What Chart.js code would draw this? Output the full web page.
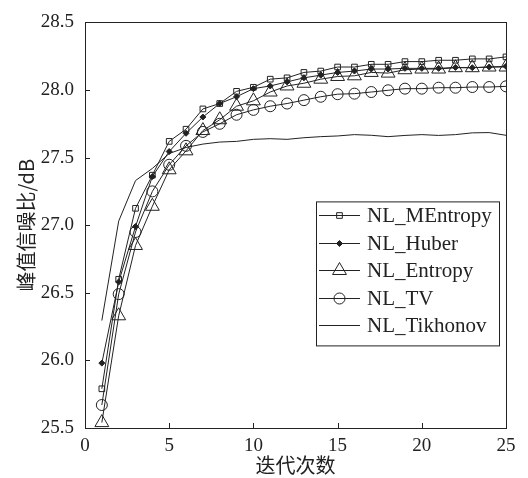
<!DOCTYPE html>
<html>
<head>
<meta charset="utf-8">
<script src="https://cdn.jsdelivr.net/npm/chart.js@4/dist/chart.umd.min.js"></script>
<style>
  html, body { margin: 0; padding: 0; background: #fff; }
</style>
</head>
<body>
<canvas id="myChart" width="528" height="478"></canvas>
<script>
// data
const iterations = [1,2,3,4,5,6,7,8,9,10,11,12,13,14,15,16,17,18,19,20,21,22,23,24,25];
const seriesNames = ['NL_MEntropy', 'NL_Huber', 'NL_Entropy', 'NL_TV', 'NL_Tikhonov'];
const mentropy = [25.79, 26.60, 27.125, 27.37, 27.62, 27.71, 27.86, 27.90, 27.99, 28.02, 28.08, 28.09, 28.13, 28.14, 28.17, 28.17, 28.19, 28.19, 28.21, 28.21, 28.22, 28.22, 28.23, 28.23, 28.245];
const huber = [25.98, 26.58, 26.99, 27.36, 27.545, 27.68, 27.80, 27.90, 27.95, 28.01, 28.03, 28.06, 28.09, 28.11, 28.13, 28.14, 28.155, 28.155, 28.16, 28.16, 28.16, 28.167, 28.165, 28.17, 28.175];
const entropy = [25.54, 26.33, 26.85, 27.14, 27.41, 27.55, 27.70, 27.78, 27.88, 27.92, 27.985, 28.03, 28.05, 28.08, 28.10, 28.105, 28.13, 28.125, 28.15, 28.155, 28.155, 28.165, 28.165, 28.17, 28.17];
const tv = [25.67, 26.49, 26.95, 27.25, 27.447, 27.587, 27.69, 27.75, 27.817, 27.853, 27.88, 27.90, 27.925, 27.95, 27.969, 27.973, 27.985, 27.998, 28.01, 28.01, 28.017, 28.017, 28.022, 28.022, 28.027];
const tikhonov = [26.295, 27.03, 27.33, 27.42, 27.53, 27.575, 27.60, 27.615, 27.62, 27.635, 27.64, 27.635, 27.647, 27.655, 27.66, 27.67, 27.665, 27.655, 27.664, 27.67, 27.664, 27.67, 27.683, 27.685, 27.665];
const xTitle = '迭代次数';
const yTitle = '峰值信噪比/dB';

const ink = '#222';
const serif = '"Liberation Serif", "DejaVu Serif", serif';

function pts(vals) {
  return vals.map((v, i) => ({x: iterations[i], y: v}));
}

function series(label, vals, style, r, filled) {
  return {
    label: label,
    data: pts(vals),
    borderColor: ink,
    borderWidth: 1,
    pointStyle: style,
    pointRadius: style ? r : 0,
    pointBorderColor: ink,
    pointBorderWidth: 1,
    pointBackgroundColor: filled ? ink : 'rgba(0,0,0,0)',
    tension: 0,
    clip: 0
  };
}

// draws a marker the same way the chart does, for the legend
function mark(ctx, style, r, x, y, filled) {
  ctx.beginPath();
  if (style === 'rect') {
    const s = r * Math.SQRT1_2;
    ctx.rect(x - s, y - s, 2 * s, 2 * s);
  } else if (style === 'rectRot') {
    ctx.moveTo(x, y - r); ctx.lineTo(x + r, y); ctx.lineTo(x, y + r); ctx.lineTo(x - r, y); ctx.closePath();
  } else if (style === 'triangle') {
    ctx.moveTo(x, y - r);
    ctx.lineTo(x + 0.866 * r, y + 0.5 * r);
    ctx.lineTo(x - 0.866 * r, y + 0.5 * r);
    ctx.closePath();
  } else if (style === 'circle') {
    ctx.arc(x, y, r, 0, Math.PI * 2);
  } else {
    return;
  }
  if (filled) { ctx.fillStyle = ink; ctx.fill(); }
  ctx.stroke();
}

const frameAndTicks = {
  id: 'frameAndTicks',
  afterDraw(chart) {
    const ctx = chart.ctx, a = chart.chartArea;
    ctx.save();
    ctx.strokeStyle = ink;
    ctx.lineWidth = 1;
    ctx.strokeRect(Math.round(a.left) + 0.5, Math.round(a.top) + 0.5,
                   Math.round(a.right - a.left), Math.round(a.bottom - a.top));
    ctx.beginPath();
    const xs = chart.scales.x, ys = chart.scales.y;
    xs.ticks.forEach(t => {
      const px = Math.round(xs.getPixelForValue(t.value)) + 0.5;
      ctx.moveTo(px, a.bottom); ctx.lineTo(px, a.bottom - 5);
    });
    ys.ticks.forEach(t => {
      const py = Math.round(ys.getPixelForValue(t.value)) + 0.5;
      ctx.moveTo(a.left, py); ctx.lineTo(a.left + 5, py);
    });
    ctx.stroke();
    ctx.restore();
  }
};

const boxLegend = {
  id: 'boxLegend',
  afterDraw(chart) {
    const ctx = chart.ctx, a = chart.chartArea;
    const x0 = a.left + 231, y0 = a.top + 179, w = 183, h = 144;
    ctx.save();
    ctx.fillStyle = '#fff';
    ctx.fillRect(x0, y0, w, h);
    ctx.strokeStyle = ink;
    ctx.lineWidth = 1;
    ctx.strokeRect(x0 + 0.5, y0 + 0.5, w, h);
    ctx.font = '21px ' + serif;
    ctx.textBaseline = 'middle';
    chart.data.datasets.forEach((ds, i) => {
      const y = Math.round(y0 + 14 + i * 27.5) + 0.5;
      ctx.strokeStyle = ink;
      ctx.beginPath();
      ctx.moveTo(x0 + 3, y); ctx.lineTo(x0 + 44, y);
      ctx.stroke();
      if (ds.pointRadius > 0) {
        mark(ctx, ds.pointStyle, ds.pointRadius, x0 + 23.5, y, ds.pointBackgroundColor === ink);
      }
      ctx.fillStyle = ink;
      ctx.fillText(ds.label, x0 + 51, y + 1);
    });
    ctx.restore();
  }
};

const data = {
  datasets: [
    series(seriesNames[0], mentropy, 'rect', 4, false),
    series(seriesNames[1], huber, 'rectRot', 3, true),
    series(seriesNames[2], entropy, 'triangle', 8, false),
    series(seriesNames[3], tv, 'circle', 5.5, false),
    series(seriesNames[4], tikhonov, false, 0, false)
  ]
};

const config = {
  type: 'line',
  data,
  options: {
    responsive: false,
    animation: false,
    devicePixelRatio: 1,
    layout: { padding: { left: 0, right: 22, top: 14, bottom: 0 } },
    plugins: { legend: { display: false }, tooltip: { enabled: false } },
    scales: {
      x: {
        type: 'linear',
        min: 0, max: 25,
        afterFit: s => { s.height = 50; },
        ticks: { stepSize: 5, color: ink, padding: 7, maxRotation: 0, font: { family: serif, size: 19 } },
        grid: { drawOnChartArea: false, drawTicks: false },
        border: { display: false },
        title: { display: true, text: xTitle, color: ink, padding: { top: 0, bottom: 1 },
                 font: { family: '"Noto Sans CJK SC", sans-serif', size: 20, lineHeight: 1.2 } }
      },
      y: {
        type: 'linear',
        min: 25.5, max: 28.5,
        afterFit: s => { s.width = 85; },
        ticks: { stepSize: 0.5, color: ink, padding: 11, font: { family: serif, size: 19 },
                 callback: v => v.toFixed(1) },
        grid: { drawOnChartArea: false, drawTicks: false },
        border: { display: false },
        title: { display: true, text: yTitle, color: ink, padding: { top: 14, bottom: 0 },
                 font: { family: '"Noto Sans CJK SC", sans-serif', size: 20, lineHeight: 1.2 } }
      }
    }
  },
  plugins: [frameAndTicks, boxLegend]
};

const myChart = new Chart(document.getElementById('myChart'), config);
</script>
</body>
</html>
